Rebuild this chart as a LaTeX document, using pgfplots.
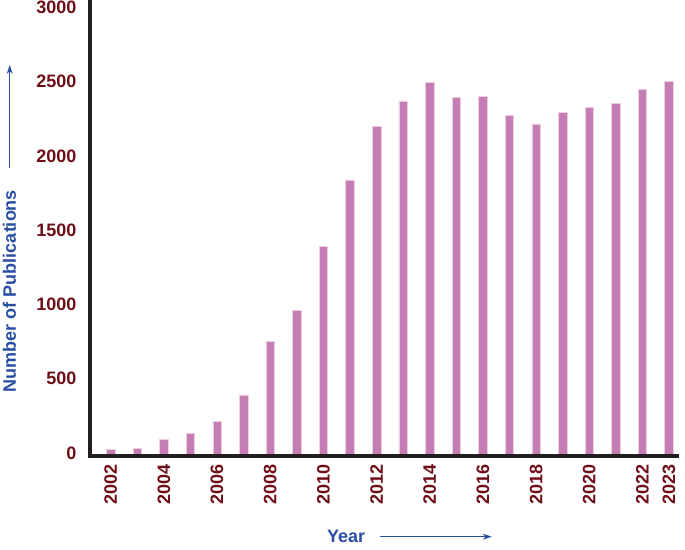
\documentclass[border=0pt]{standalone}
\usepackage{fontspec}
\setmainfont{Liberation Sans}
\usepackage{pgfplots}
\pgfplotsset{compat=1.18}
\usetikzlibrary{arrows.meta}
\definecolor{tickred}{RGB}{110,14,22}
\definecolor{labblue}{RGB}{42,78,162}
\definecolor{barpink}{RGB}{196,126,180}
\definecolor{baredge}{RGB}{238,205,228}
\definecolor{axisblack}{RGB}{35,31,32}
\begin{document}
\begin{tikzpicture}[x=1pt,y=1pt]
\path[use as bounding box] (-90.5,-93) rectangle (594.5,456);
\begin{axis}[
  at={(0pt,0pt)}, anchor=south west,
  scale only axis, width=586.5pt, height=456pt,
  xmin=2001.24, xmax=2023.3, ymin=0, ymax=3071,
  axis x line=bottom, axis y line=left,
  axis line style={-, line width=4pt, color=axisblack, line cap=rect},
  axis on top,
  major tick length=0pt,
  xtick={2002,2004,...,2022,2023},
  ytick={0,500,...,3000},
  /pgf/number format/1000 sep={},
  /pgf/number format/assume math mode=true,
  ticklabel style={font=\fontsize{18}{20}\selectfont\bfseries, text=tickred},
  xticklabel style={rotate=90, anchor=east, inner xsep=8pt},
  yticklabel style={anchor=east, inner xsep=14pt, yshift=3pt},
]
\addplot[ybar, bar width=8.5pt, fill=barpink, draw=baredge, line width=0.6pt]
coordinates {
(2002,42) (2003,49) (2004,114) (2005,150) (2006,231) (2007,411)
(2008,774) (2009,983) (2010,1412) (2011,1859) (2012,2222) (2013,2391)
(2014,2514) (2015,2413) (2016,2424) (2017,2296) (2018,2236) (2019,2316)
(2020,2345) (2021,2377) (2022,2471) (2023,2525)
};
\end{axis}
\node[rotate=90, text=labblue, font=\fontsize{18}{20}\selectfont\bfseries, inner sep=0pt] at (-81,165) {Number of Publications};
\draw[labblue, line width=1pt, -{Stealth[length=9pt,width=6pt]}] (-80.8,288) -- (-80.8,391);
\node[anchor=base west, text=labblue, font=\fontsize{18}{20}\selectfont\bfseries, inner sep=0pt] at (236.5,-86) {Year};
\draw[labblue, line width=1pt, -{Stealth[length=9pt,width=6pt]}] (289.5,-80.7) -- (401.2,-80.7);
\end{tikzpicture}
\end{document}
